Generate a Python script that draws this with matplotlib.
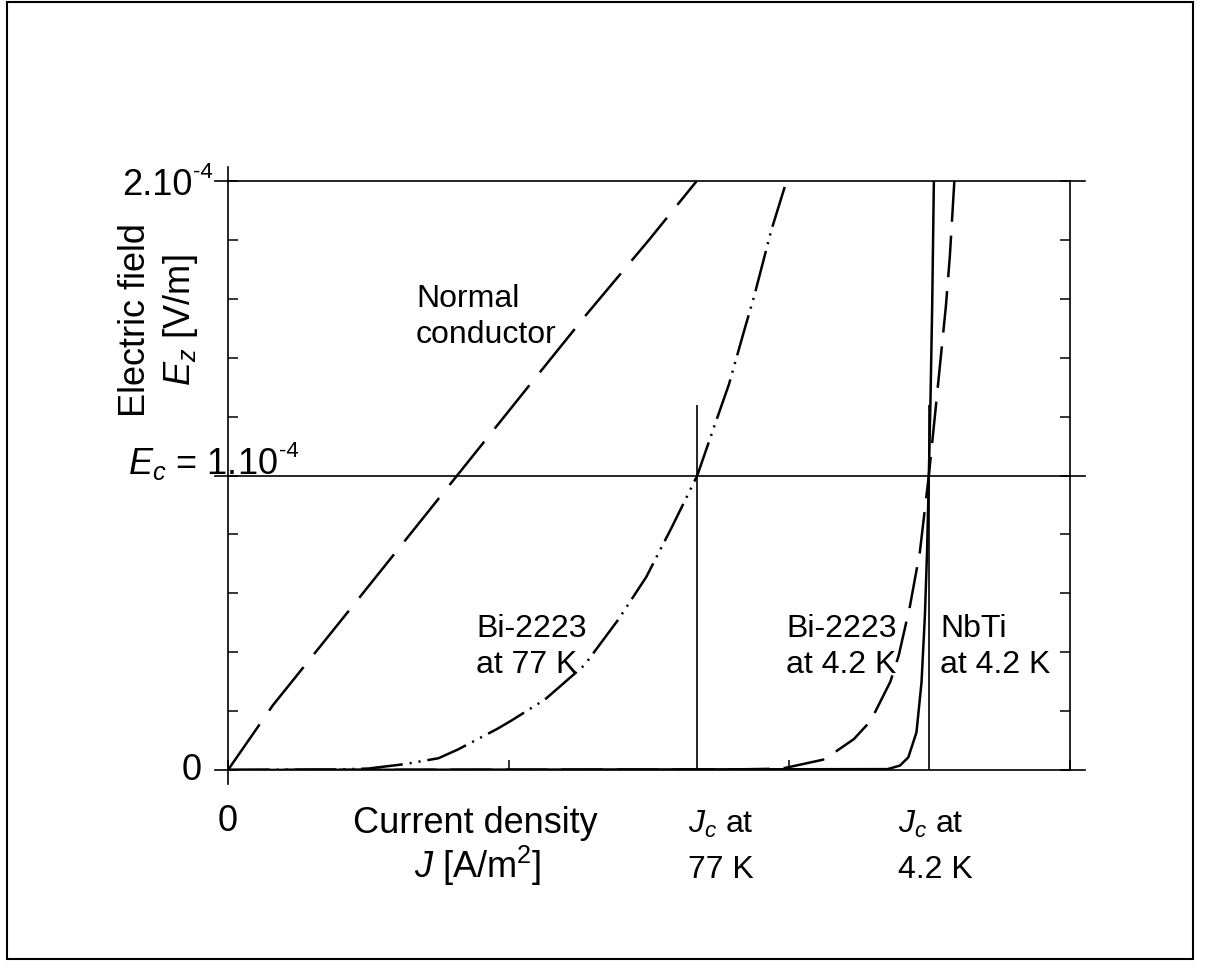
import numpy as np
import matplotlib
matplotlib.use('Agg')
import matplotlib.pyplot as plt
from matplotlib.patches import Rectangle

plt.rcParams['font.family'] = 'Liberation Sans'
plt.rcParams['mathtext.fontset'] = 'custom'
plt.rcParams['mathtext.rm'] = 'Liberation Sans'
plt.rcParams['mathtext.it'] = 'Liberation Sans:italic'
plt.rcParams['lines.scale_dashes'] = False

# current density (arb. units, 0..3) and electric field (units of 1e-4 V/m)
normal_j = [0, 0.16, 0.43, 0.64, 0.85, 1.06, 1.28, 1.50, 1.67]
normal_e = [0, 0.22, 0.54, 0.79, 1.04, 1.29, 1.55, 1.80, 2.0]

bi77_j = [0, 0.40, 0.50, 0.63, 0.75, 0.82, 0.96, 1.01, 1.13, 1.27, 1.39,
          1.49, 1.58, 1.672, 1.73, 1.785, 1.84, 1.875, 1.935, 1.99]
bi77_e = [0, 0.002, 0.005, 0.02, 0.04, 0.07, 0.14, 0.168, 0.24, 0.356, 0.51,
          0.655, 0.822, 1.0, 1.16, 1.31, 1.495, 1.61, 1.83, 2.0]

bi42_j = [0, 1.80, 1.94, 1.98, 2.12, 2.16, 2.23, 2.29, 2.36, 2.39, 2.43,
          2.465, 2.497, 2.52, 2.558, 2.572, 2.588]
bi42_e = [0, 0.002, 0.004, 0.006, 0.035, 0.059, 0.105, 0.167, 0.30, 0.39, 0.558,
          0.74, 1.0, 1.215, 1.577, 1.746, 2.0]

nbti_j = [0, 2.35, 2.394, 2.424, 2.453, 2.471, 2.483, 2.491, 2.497, 2.503, 2.509, 2.515]
nbti_e = [0, 0.003, 0.015, 0.043, 0.128, 0.298, 0.524, 0.75, 1.0, 1.26, 1.577, 2.0]

jc_values = [1.672, 2.497]
jc_top = 1.24
e_c = 1.0

x_ticks = [0, 1, 2, 3]
y_ticks = np.linspace(0, 2, 11)

fig = plt.figure(figsize=(12.11, 9.79), dpi=100)
ax = fig.add_axes([228 / 1211, 1 - 771 / 979, 842 / 1211, 589 / 979])
ax.set_xlim(0, 3)
ax.set_ylim(0, 2)

# curves
ax.plot(normal_j, normal_e, color='k', lw=1.8, dashes=(40, 12))
ax.plot(bi77_j, bi77_e, color='k', lw=1.8, dashes=(30, 5, 1.5, 5, 1.5, 5))
ax.plot(bi42_j, bi42_e, color='k', lw=1.8, dashes=(30, 10))
ax.plot(nbti_j, nbti_e, color='k', lw=1.8)

# Jc markers and reference lines
ax.vlines(jc_values, 0, jc_top, color='k', lw=1.2)
for yv in [0, e_c, 2]:
    ax.plot([-0.046, 3.053], [yv, yv], color='k', lw=1.2, clip_on=False)
ax.plot([0, 0], [-0.048, 2.048], color='k', lw=1.2, clip_on=False)
ax.plot([3, 3], [0, 2], color='k', lw=1.2, clip_on=False)

for s in ax.spines.values():
    s.set_visible(False)

ax.set_xticks(x_ticks)
ax.set_yticks(y_ticks)
ax.tick_params(direction='in', length=7.5, width=1.1, labelbottom=False,
               labelleft=False, left=True, right=True, bottom=True, top=False)

fs_big = 26
fs = 23
fs_sup = 16


def with_exponent(x, y, base, exp):
    t = ax.text(x, y, base, fontsize=fs_big, ha='left', va='baseline')
    ax.annotate(exp, xy=(1.0, 1.0), xycoords=t, xytext=(0.5, 4),
                textcoords='offset points', fontsize=fs_sup, ha='left', va='top')


ax.text(-0.093, 0, '0', fontsize=fs_big, ha='right', va='center')
ax.text(0, -0.170, '0', fontsize=fs_big, ha='center', va='center')
with_exponent(-0.378, 1.956, '2.10', '-4')
with_exponent(-0.356, 1.008, '$E_c$ = 1.10', '-4')

ax.text(-0.331, 1.531, 'Electric field', fontsize=fs_big, rotation=90,
        ha='center', va='center')
ax.text(-0.171, 1.531, '$E_z$ [V/m]', fontsize=fs_big, rotation=90,
        ha='center', va='center')

ax.text(0.880, -0.211, 'Current density', fontsize=fs_big, ha='center', va='baseline')
ax.text(0.891, -0.363, '$J$ [A/m$^2$]', fontsize=fs_big, ha='center', va='baseline')

ax.text(1.639, -0.211, '$J_c$ at', fontsize=fs, ha='left', va='baseline')
ax.text(1.639, -0.363, '77 K', fontsize=fs, ha='left', va='baseline')
ax.text(2.387, -0.211, '$J_c$ at', fontsize=fs, ha='left', va='baseline')
ax.text(2.387, -0.363, '4.2 K', fontsize=fs, ha='left', va='baseline')

ax.text(0.670, 1.576, 'Normal', fontsize=fs, ha='left', va='baseline')
ax.text(0.670, 1.453, 'conductor', fontsize=fs, ha='left', va='baseline')
ax.text(0.884, 0.455, 'Bi-2223', fontsize=fs, ha='left', va='baseline')
ax.text(0.884, 0.333, 'at 77 K', fontsize=fs, ha='left', va='baseline')
ax.text(1.988, 0.455, 'Bi-2223', fontsize=fs, ha='left', va='baseline')
ax.text(1.988, 0.333, 'at 4.2 K', fontsize=fs, ha='left', va='baseline')
ax.text(2.537, 0.455, 'NbTi', fontsize=fs, ha='left', va='baseline')
ax.text(2.537, 0.333, 'at 4.2 K', fontsize=fs, ha='left', va='baseline')

# outer frame
fig.add_artist(Rectangle((7 / 1211, 1 - 960 / 979), 1186 / 1211, 957 / 979,
                         transform=fig.transFigure, fill=False, lw=1.5, color='k'))

fig.savefig('out.png', dpi=100)
